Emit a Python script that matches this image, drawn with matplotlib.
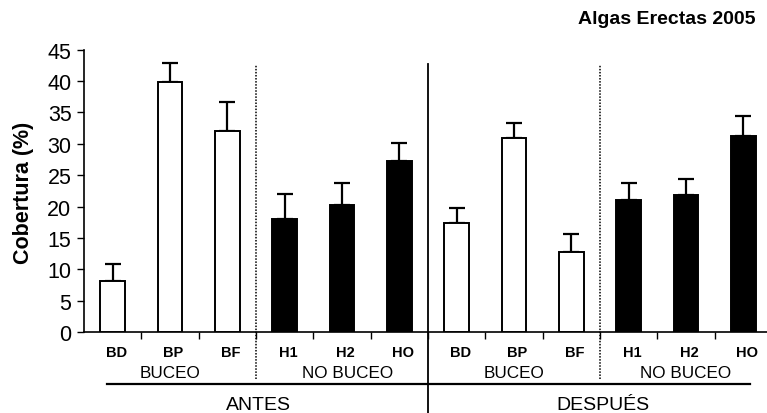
import matplotlib
matplotlib.use('Agg')
import matplotlib.pyplot as plt
import numpy as np

plt.rcParams['font.family'] = ['Liberation Sans', 'DejaVu Sans']

# data
labels = ['BD', 'BP', 'BF', 'H1', 'H2', 'HO', 'BD', 'BP', 'BF', 'H1', 'H2', 'HO']
cover = [8.2, 39.9, 32.1, 18.0, 20.2, 27.2, 17.45, 31.0, 12.8, 21.0, 21.8, 31.3]
err = [2.6, 3.0, 4.5, 4.0, 3.6, 2.9, 2.3, 2.35, 2.9, 2.8, 2.6, 3.1]
diving = [True, True, True, False, False, False, True, True, True, False, False, False]
group_labels = ['BUCEO', 'NO BUCEO', 'BUCEO', 'NO BUCEO']
group_pos = [1.0, 4.1, 7.0, 10.0]
period_labels = ['ANTES', 'DESPUÉS']
period_pos = [2.55, 8.55]
yticks = list(range(0, 50, 5))


def main():
    fig = plt.figure(figsize=(7.67, 4.14), dpi=100)
    ax = fig.add_axes([84 / 767, 81 / 414, 688 / 767, 282.3 / 414])

    x = np.arange(len(cover))
    colors = ['white' if d else 'black' for d in diving]
    ax.bar(x, cover, width=0.425, color=colors, edgecolor='black', linewidth=1.4, zorder=3)
    ax.errorbar(x, cover, yerr=[np.zeros(len(err)), err], fmt='none', ecolor='black',
                elinewidth=1.6, capsize=5.6, capthick=1.6, zorder=2)

    ax.set_xlim(-0.5, len(cover) - 0.5)
    ax.set_ylim(0, 45)
    ax.set_yticks(yticks)
    ax.tick_params(axis='y', direction='out', length=5, width=1, labelsize=15.5, pad=4)
    ax.set_xticks(np.arange(0.5, len(cover) - 0.5, 1.0))
    ax.set_xticklabels([])
    ax.tick_params(axis='x', direction='out', length=5, width=1)
    for s in ['top', 'right']:
        ax.spines[s].set_visible(False)
    ax.spines['left'].set_linewidth(1.2)
    ax.spines['bottom'].set_linewidth(1.2)

    # category, group and period labels below the axis
    for xi, lab in zip(x, labels):
        ax.text(xi + 0.06, -3.2, lab, ha='center', va='center', fontsize=10.5,
                fontweight='bold', clip_on=False)
    for gx, lab in zip(group_pos, group_labels):
        ax.text(gx, -6.4, lab, ha='center', va='center', fontsize=12.3, clip_on=False)
    for px, lab in zip(period_pos, period_labels):
        ax.text(px, -11.5, lab, ha='center', va='center', fontsize=14, clip_on=False)

    # separators
    ax.plot([5.5, 5.5], [-14, 42.7], color='black', lw=1.3, clip_on=False)
    for sx in [2.5, 8.5]:
        ax.plot([sx, sx], [-7.55, 42.56], color='black', lw=1.1,
                linestyle=(0, (1, 1)), clip_on=False)
    ax.plot([-0.1, 11.11], [-8.23, -8.23], color='black', lw=1.6, clip_on=False)

    fig.text(23 / 767, 1 - 193 / 414, 'Cobertura (%)', rotation=90, ha='center', va='center',
             fontsize=15.5, fontweight='bold')
    fig.text(756 / 767, 1 - 20 / 414, 'Algas Erectas 2005', ha='right', va='center',
             fontsize=14, fontweight='bold')

    fig.savefig('out.png', dpi=100)


if __name__ == '__main__':
    main()
